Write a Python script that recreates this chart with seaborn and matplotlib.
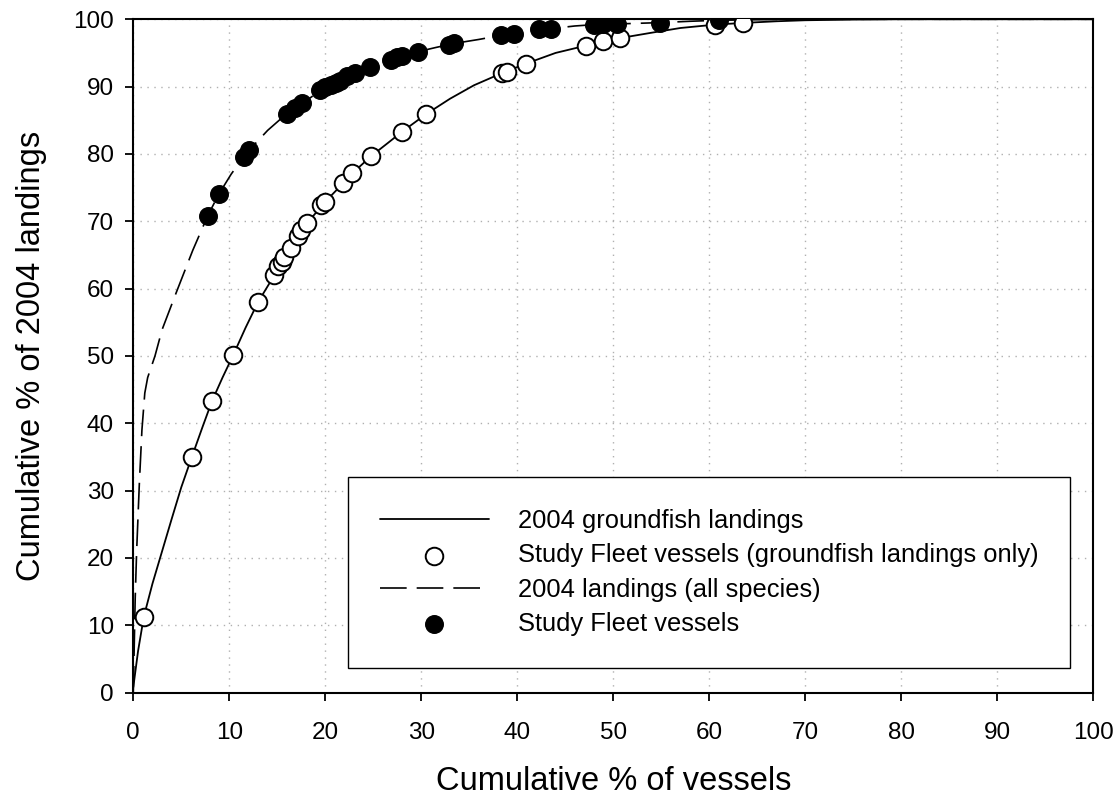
import numpy as np
import pandas as pd
import matplotlib
matplotlib.use("Agg")
import matplotlib.pyplot as plt
import seaborn as sns

# curve of all 2004 groundfish landings
gf_curve_x = [0, 0.5, 1.1, 2, 3, 4, 5, 6.1, 7.2, 8.2, 9.3, 10.4, 11.7, 13.0, 14.7, 16.4,
              18.1, 20.0, 21.9, 22.8, 24.8, 26.5, 28.0, 30.5, 33, 35.5, 38.4, 40.9, 44,
              47.2, 50.7, 54, 57, 60.6, 63.5, 67, 70, 75, 80, 90, 100]
gf_curve_y = [0.8, 6.2, 11.3, 16.2, 21.0, 25.8, 30.5, 35.0, 39.4, 43.3, 46.8, 50.1, 54.2,
              58.0, 62.0, 66.1, 69.7, 72.9, 75.7, 77.1, 79.7, 81.6, 83.3, 85.9, 88.2, 90.2,
              92.0, 93.4, 95.0, 96.1, 97.2, 98.0, 98.7, 99.2, 99.45, 99.7, 99.85, 99.95,
              100, 100, 100]

# curve of all 2004 landings (all species)
all_curve_x = [0, 0.1, 0.2, 0.35, 0.63, 0.9, 1.2, 1.5, 2.26, 3.0, 4.5, 6.2, 7.75, 8.9,
               10.2, 11.5, 12.1, 14, 16.0, 17.6, 19.5, 20.5, 23.1, 24.7, 26.8, 27.9, 29.7,
               31.5, 33.4, 36, 38.3, 39.7, 42.3, 43.5, 46, 48.0, 50.4, 54.9, 58, 61,
               65, 70, 80, 100]
all_curve_y = [0, 7, 14, 21, 31, 39, 44.5, 46.8, 50.0, 53.9, 59.5, 65.7, 70.8, 74.0,
               77.0, 79.6, 80.6, 83.5, 86.0, 87.5, 89.4, 90.2, 92.0, 92.9, 94.0, 94.6, 95.2,
               95.8, 96.4, 97.0, 97.6, 97.8, 98.4, 98.6, 99.0, 99.2, 99.3, 99.5, 99.7, 99.85,
               99.93, 100, 100, 100]

# Study Fleet vessels, groundfish landings only (open circles)
sf_gf_x = [1.1, 6.1, 8.2, 10.4, 13.0, 14.7, 15.1, 15.5, 15.7, 16.4, 17.2, 17.5, 18.1,
           19.6, 20.0, 21.9, 22.8, 24.8, 28.0, 30.5, 38.4, 38.9, 40.9, 47.2, 48.9, 50.7,
           60.6, 63.5]
sf_gf_y = [11.3, 35.0, 43.3, 50.1, 58.0, 62.0, 63.3, 64.0, 64.7, 66.1, 67.8, 68.7, 69.7,
           72.4, 72.9, 75.7, 77.1, 79.7, 83.3, 85.9, 92.0, 92.2, 93.4, 96.1, 96.7, 97.2,
           99.2, 99.4]

# Study Fleet vessels, all species (filled circles)
sf_all_x = [7.75, 8.9, 11.5, 12.1, 16.0, 16.9, 17.6, 19.5, 20.0, 20.6, 21.1, 21.5, 22.3,
            23.1, 24.7, 26.8, 27.5, 28.0, 29.7, 32.9, 33.4, 38.3, 39.7, 42.3, 43.5, 48.0,
            48.9, 50.4, 54.9, 61.0]
sf_all_y = [70.8, 74.0, 79.6, 80.6, 86.0, 86.8, 87.5, 89.5, 89.9, 90.2, 90.6, 90.9, 91.5,
            92.0, 92.9, 94.0, 94.4, 94.6, 95.2, 96.2, 96.4, 97.6, 97.8, 98.6, 98.6, 99.2,
            99.3, 99.3, 99.5, 99.9]

sns.set_style("ticks")
plt.rcParams['font.family'] = ['Liberation Sans', 'DejaVu Sans']
plt.rcParams['text.color'] = 'black'
plt.rcParams['axes.labelcolor'] = 'black'
plt.rcParams['xtick.color'] = 'black'
plt.rcParams['ytick.color'] = 'black'

fig = plt.figure(figsize=(11.2, 8.02), dpi=100)
ax = fig.add_axes([0.119, 0.1363, 0.857, 0.8397])

sns.lineplot(x=gf_curve_x, y=gf_curve_y, ax=ax, color='black', linewidth=1.3,
             sort=False, estimator=None, label='2004 groundfish landings', zorder=2)
sns.scatterplot(x=sf_gf_x, y=sf_gf_y, ax=ax, marker='o', s=160, facecolor='white',
                edgecolor='black', linewidth=1.4,
                label='Study Fleet vessels (groundfish landings only)', zorder=3)
sns.lineplot(x=all_curve_x, y=all_curve_y, ax=ax, color='black', linewidth=1.2,
             linestyle=(0, (16, 6)), sort=False, estimator=None,
             label='2004 landings (all species)', zorder=2)
sns.scatterplot(x=sf_all_x, y=sf_all_y, ax=ax, marker='o', s=160, color='black',
                edgecolor='black', linewidth=1.0, label='Study Fleet vessels', zorder=3)

ax.set_xlim(0, 100)
ax.set_ylim(0, 100)
ax.set_xticks(np.arange(0, 101, 10))
ax.set_yticks(np.arange(0, 101, 10))
ax.grid(True, color='#b0b0b0', linestyle=(0, (1, 4)), linewidth=1.0)
ax.set_axisbelow(True)
for sp in ax.spines.values():
    sp.set_linewidth(1.5)
    sp.set_color('black')
ax.tick_params(axis='both', direction='out', length=6, width=1.3, labelsize=17.5,
               colors='black')
ax.tick_params(axis='x', pad=15)
ax.tick_params(axis='y', pad=8)

ax.set_xlabel("Cumulative % of vessels", fontsize=23.5, labelpad=16)
ax.set_ylabel("Cumulative % of 2004 landings", fontsize=23.5, labelpad=19)

leg = ax.legend(loc='lower right', bbox_to_anchor=(0.976, 0.037), fontsize=18.4,
                frameon=True, fancybox=False, edgecolor='black', framealpha=1,
                handlelength=4.3, handletextpad=1.1, labelspacing=0.4,
                borderpad=1.25, borderaxespad=0, markerscale=1.0)
leg.get_frame().set_linewidth(1.0)

fig.savefig("out.png", dpi=100)
